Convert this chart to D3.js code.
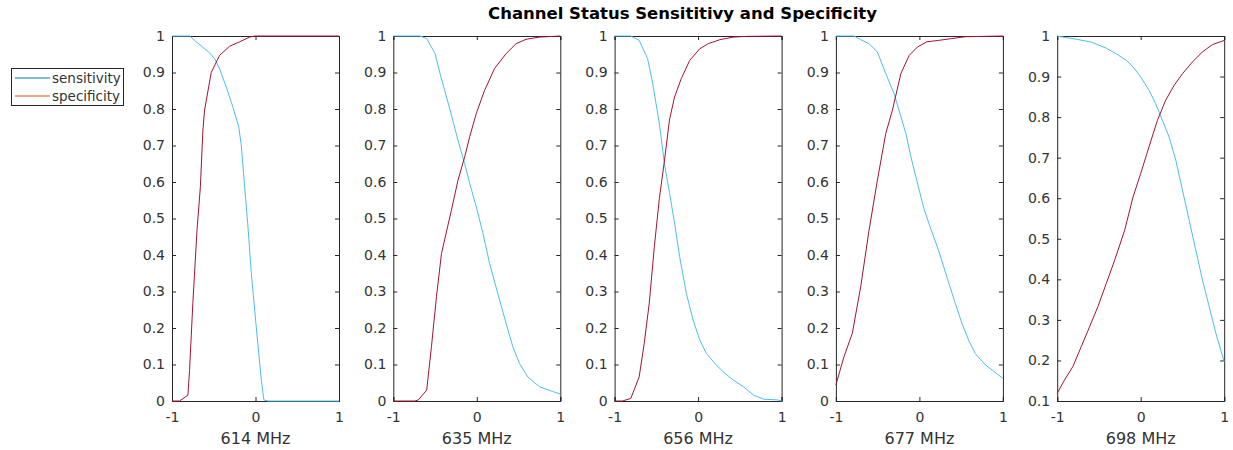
<!DOCTYPE html>
<html>
<head>
<meta charset="utf-8">
<script src="https://cdn.jsdelivr.net/npm/d3@7"></script>
<style>
  body { margin: 0; background: #fff; }
  svg { font-family: "DejaVu Sans", sans-serif; }
  .axis path, .axis line { stroke: #262626; }
</style>
</head>
<body>
<svg id="chart" width="1233" height="450"></svg>
<script>
// Channel frequencies, one per subplot
const channels = ["614 MHz", "635 MHz", "656 MHz", "677 MHz", "698 MHz"];

// Tick labels
const xTicks = [-1, 0, 1];
const yTicks = [0, 0.1, 0.2, 0.3, 0.4, 0.5, 0.6, 0.7, 0.8, 0.9, 1];
const yTicksLast = [0.1, 0.2, 0.3, 0.4, 0.5, 0.6, 0.7, 0.8, 0.9, 1];

// Series: [threshold, rate]
const sens614 = [[-1,1],[-0.79,1],[-0.73,0.988],[-0.55,0.954],[-0.49,0.938],[-0.43,0.91],[-0.35,0.86],[-0.27,0.805],[-0.2,0.75],[-0.17,0.70],[-0.13,0.587],[-0.09,0.477],[-0.05,0.35],[0.01,0.20],[0.07,0.057],[0.10,0.003],[0.15,0],[1,0]];
const spec614 = [[-1,0],[-0.91,0],[-0.81,0.016],[-0.79,0.083],[-0.75,0.27],[-0.70,0.47],[-0.66,0.587],[-0.63,0.742],[-0.61,0.797],[-0.53,0.90],[-0.43,0.947],[-0.31,0.972],[-0.19,0.984],[-0.07,0.997],[-0.01,1],[1,1]];

const sens635 = [[-1,1],[-0.68,1],[-0.60,0.993],[-0.50,0.952],[-0.44,0.897],[-0.32,0.797],[-0.225,0.714],[-0.145,0.65],[-0.085,0.596],[-0.006,0.532],[0.074,0.459],[0.153,0.377],[0.252,0.294],[0.352,0.212],[0.431,0.149],[0.511,0.103],[0.61,0.066],[0.75,0.039],[0.909,0.026],[1,0.019]];
const spec635 = [[-1,0],[-0.74,0],[-0.70,0.003],[-0.60,0.03],[-0.543,0.149],[-0.483,0.286],[-0.423,0.404],[-0.304,0.523],[-0.225,0.605],[-0.145,0.669],[-0.085,0.724],[-0.006,0.788],[0.093,0.851],[0.213,0.911],[0.352,0.952],[0.471,0.979],[0.59,0.991],[0.75,0.997],[1,1]];

const sens656 = [[-1,1],[-0.806,1],[-0.706,0.988],[-0.605,0.938],[-0.544,0.87],[-0.464,0.76],[-0.403,0.65],[-0.343,0.571],[-0.282,0.488],[-0.222,0.396],[-0.141,0.295],[-0.06,0.222],[0.02,0.167],[0.10,0.13],[0.20,0.103],[0.30,0.08],[0.423,0.057],[0.544,0.039],[0.665,0.016],[0.786,0.005],[0.95,0.003],[1,0]];
const spec656 = [[-1,0],[-0.907,0],[-0.806,0.007],[-0.706,0.066],[-0.645,0.158],[-0.585,0.268],[-0.524,0.423],[-0.464,0.555],[-0.403,0.658],[-0.343,0.77],[-0.282,0.833],[-0.202,0.883],[-0.101,0.933],[0.02,0.965],[0.121,0.979],[0.262,0.99],[0.423,0.997],[0.585,0.999],[1,1]];

const sens677 = [[-1,1],[-0.784,1],[-0.703,0.99],[-0.603,0.979],[-0.503,0.956],[-0.403,0.897],[-0.303,0.842],[-0.222,0.779],[-0.162,0.733],[-0.102,0.669],[-0.032,0.605],[0.048,0.532],[0.128,0.477],[0.229,0.413],[0.329,0.34],[0.429,0.268],[0.509,0.213],[0.589,0.167],[0.669,0.13],[0.79,0.099],[1,0.062]];
const spec677 = [[-1,0.044],[-0.904,0.121],[-0.804,0.185],[-0.703,0.313],[-0.603,0.468],[-0.503,0.605],[-0.403,0.733],[-0.323,0.797],[-0.222,0.897],[-0.122,0.947],[-0.022,0.97],[0.088,0.984],[0.229,0.988],[0.389,0.993],[0.549,0.998],[1,1]];

const sens698 = [[-1,1],[-0.892,0.996],[-0.772,0.992],[-0.592,0.985],[-0.412,0.97],[-0.292,0.956],[-0.172,0.94],[-0.092,0.924],[0,0.899],[0.1,0.866],[0.18,0.833],[0.26,0.792],[0.34,0.751],[0.42,0.694],[0.5,0.62],[0.58,0.546],[0.66,0.472],[0.74,0.398],[0.82,0.333],[0.9,0.267],[1,0.197]];
const spec698 = [[-1,0.119],[-0.912,0.152],[-0.812,0.185],[-0.712,0.234],[-0.612,0.283],[-0.512,0.333],[-0.412,0.39],[-0.312,0.447],[-0.192,0.521],[-0.092,0.603],[0,0.661],[0.1,0.727],[0.2,0.792],[0.3,0.842],[0.4,0.878],[0.5,0.907],[0.62,0.936],[0.74,0.961],[0.86,0.979],[1,0.989]];

const sensitivity = [sens614, sens635, sens656, sens677, sens698];
const specificity = [spec614, spec635, spec656, spec677, spec698];
const yTickSets = [yTicks, yTicks, yTicks, yTicks, yTicksLast];

const svg = d3.select("#chart");

// Subplot geometry
const plotLeft = 172, plotStep = 221.3, plotWidth = 167;
const plotTop = 36, plotHeight = 365;
const textColor = "#333";

// Title
svg.append("text")
    .attr("x", 682.5)
    .attr("y", 19)
    .attr("text-anchor", "middle")
    .style("font-size", "16.5px")
    .style("font-weight", "bold")
    .style("fill", "#000")
    .text("Channel Status Sensititivy and Specificity");

channels.forEach((name, i) => {
    const g = svg.append("g")
        .attr("transform", `translate(${plotLeft + i * plotStep},${plotTop})`);

    const x = d3.scaleLinear().domain([-1, 1]).range([0, plotWidth]);
    const ticks = yTickSets[i];
    const y = d3.scaleLinear().domain([ticks[0], 1]).range([plotHeight, 0]);
    const fmt = d => String(d);

    // Box with inward ticks on all four sides
    g.append("g").attr("class", "axis")
        .attr("transform", `translate(0,${plotHeight})`)
        .call(d3.axisBottom(x).tickValues(xTicks).tickSize(-4).tickPadding(11).tickFormat(fmt));
    g.append("g").attr("class", "axis")
        .call(d3.axisTop(x).tickValues(xTicks).tickSize(-4).tickFormat(""));
    g.append("g").attr("class", "axis")
        .call(d3.axisLeft(y).tickValues(ticks).tickSize(-4).tickPadding(7).tickFormat(fmt));
    g.append("g").attr("class", "axis")
        .attr("transform", `translate(${plotWidth},0)`)
        .call(d3.axisRight(y).tickValues(ticks).tickSize(-4).tickFormat(""));
    g.selectAll(".axis text")
        .style("font-family", "'DejaVu Sans', sans-serif")
        .style("font-size", "14px")
        .style("fill", textColor);

    const line = d3.line().x(d => x(d[0])).y(d => y(d[1]));

    g.append("path")
        .datum(sensitivity[i])
        .attr("fill", "none")
        .attr("stroke", "#4DBEEE")
        .attr("stroke-width", 1)
        .attr("d", line);

    g.append("path")
        .datum(specificity[i])
        .attr("fill", "none")
        .attr("stroke", "#A2142F")
        .attr("stroke-width", 1)
        .attr("d", line);

    // Channel label under each subplot
    g.append("text")
        .attr("x", plotWidth / 2)
        .attr("y", plotHeight + 43)
        .attr("text-anchor", "middle")
        .style("font-size", "16px")
        .style("fill", textColor)
        .text(name);
});

// Legend (uses default line colours, as in the original)
const legend = svg.append("g").attr("transform", "translate(11,68)");
legend.append("rect")
    .attr("x", 0.5).attr("y", 0.5)
    .attr("width", 112).attr("height", 37)
    .attr("fill", "#fff")
    .attr("stroke", "#262626");

const legendItems = [
    { label: "sensitivity", color: "#0072BD" },
    { label: "specificity", color: "#D95319" }
];
legendItems.forEach((item, k) => {
    const yy = 10 + k * 18;
    legend.append("line")
        .attr("x1", 4).attr("x2", 39)
        .attr("y1", yy).attr("y2", yy)
        .attr("stroke", item.color)
        .attr("stroke-width", 1);
    legend.append("text")
        .attr("x", 41)
        .attr("y", yy + 5)
        .style("font-size", "13.5px")
        .style("fill", textColor)
        .text(item.label);
});
</script>
</body>
</html>
